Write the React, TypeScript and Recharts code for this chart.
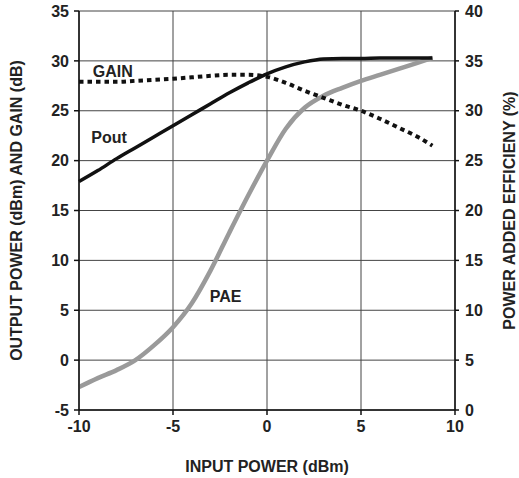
import React from "react";
import {
  CartesianGrid,
  ComposedChart,
  Line,
  ReferenceDot,
  XAxis,
  YAxis,
} from "recharts";

const inputPower = [-10, -9, -8, -7, -6, -5, -4, -3, -2, -1, 0, 1, 2, 3, 4, 5, 6, 7, 8, 8.8];
const pout = [17.9, 19.0, 20.2, 21.3, 22.4, 23.5, 24.6, 25.7, 26.8, 27.8, 28.7, 29.4, 29.9, 30.2, 30.25, 30.25, 30.3, 30.3, 30.3, 30.3];
const gain = [27.9, 27.9, 27.9, 28.0, 28.1, 28.2, 28.35, 28.5, 28.6, 28.6, 28.4, 27.8, 27.0, 26.3, 25.6, 25.0, 24.2, 23.3, 22.4, 21.5];
const pae = [2.3, 3.2, 4.0, 5.0, 6.5, 8.3, 10.7, 14.0, 17.8, 21.5, 25.0, 28.2, 30.3, 31.5, 32.3, 33.0, 33.6, 34.2, 34.8, 35.3];

const xTicks = [-10, -5, 0, 5, 10];
const leftTicks = [-5, 0, 5, 10, 15, 20, 25, 30, 35];
const rightTicks = [0, 5, 10, 15, 20, 25, 30, 35, 40];

const data = inputPower.map((x, i) => ({ x, pout: pout[i], gain: gain[i], pae: pae[i] }));

const font = "Arial, 'Liberation Sans', Helvetica, sans-serif";
const tickStyle = { fontFamily: font, fontSize: 16, fontWeight: 700, fill: "#222" };
const labelStyle = { fontFamily: font, fontSize: 16, fontWeight: 700, fill: "#222" };

export default function App() {
  return (
    <div style={{ position: "absolute", left: 0, top: 0, background: "#fff" }}>
      <ComposedChart
        width={519}
        height={478}
        data={data}
        margin={{ top: 11, right: 0, bottom: 0, left: 0 }}
      >
        <CartesianGrid stroke="#444" strokeWidth={1} yAxisId="left" />
        <XAxis
          dataKey="x"
          type="number"
          domain={[-10, 10]}
          ticks={xTicks}
          height={68}
          tick={tickStyle}
          tickSize={5}
          tickMargin={6}
          stroke="#111"
          strokeWidth={1.5}
          label={{ value: "INPUT POWER (dBm)", position: "insideBottom", offset: 6, style: labelStyle }}
        />
        <YAxis
          yAxisId="left"
          domain={[-5, 35]}
          ticks={leftTicks}
          width={79}
          tick={tickStyle}
          tickSize={5}
          tickMargin={5}
          stroke="#111"
          strokeWidth={1.5}
          label={{
            value: "OUTPUT POWER (dBm) AND GAIN (dB)",
            angle: -90,
            position: "insideLeft",
            offset: 16,
            style: { ...labelStyle, textAnchor: "middle" },
          }}
        />
        <YAxis
          yAxisId="right"
          orientation="right"
          domain={[0, 40]}
          ticks={rightTicks}
          width={64}
          tick={tickStyle}
          tickSize={4}
          tickMargin={6}
          stroke="#111"
          strokeWidth={1.5}
          label={{
            value: "POWER ADDED EFFICIENY (%)",
            angle: -90,
            position: "insideRight",
            offset: 10,
            style: { ...labelStyle, textAnchor: "middle" },
          }}
        />
        <Line
          yAxisId="right"
          type="monotone"
          dataKey="pae"
          stroke="#9a9a9a"
          strokeWidth={4.5}
          dot={false}
          isAnimationActive={false}
        />
        <Line
          yAxisId="left"
          type="monotone"
          dataKey="pout"
          stroke="#111"
          strokeWidth={3.5}
          dot={false}
          isAnimationActive={false}
        />
        <Line
          yAxisId="left"
          type="monotone"
          dataKey="gain"
          stroke="#111"
          strokeWidth={4}
          strokeDasharray="4.5 4"
          dot={false}
          isAnimationActive={false}
        />
        <ReferenceDot
          yAxisId="left"
          x={-8.2}
          y={29.0}
          r={0}
          label={{ value: "GAIN", position: "center", style: labelStyle }}
        />
        <ReferenceDot
          yAxisId="left"
          x={-8.4}
          y={22.3}
          r={0}
          label={{ value: "Pout", position: "center", style: labelStyle }}
        />
        <ReferenceDot
          yAxisId="left"
          x={-2.2}
          y={6.4}
          r={0}
          label={{ value: "PAE", position: "center", style: labelStyle }}
        />
      </ComposedChart>
    </div>
  );
}
